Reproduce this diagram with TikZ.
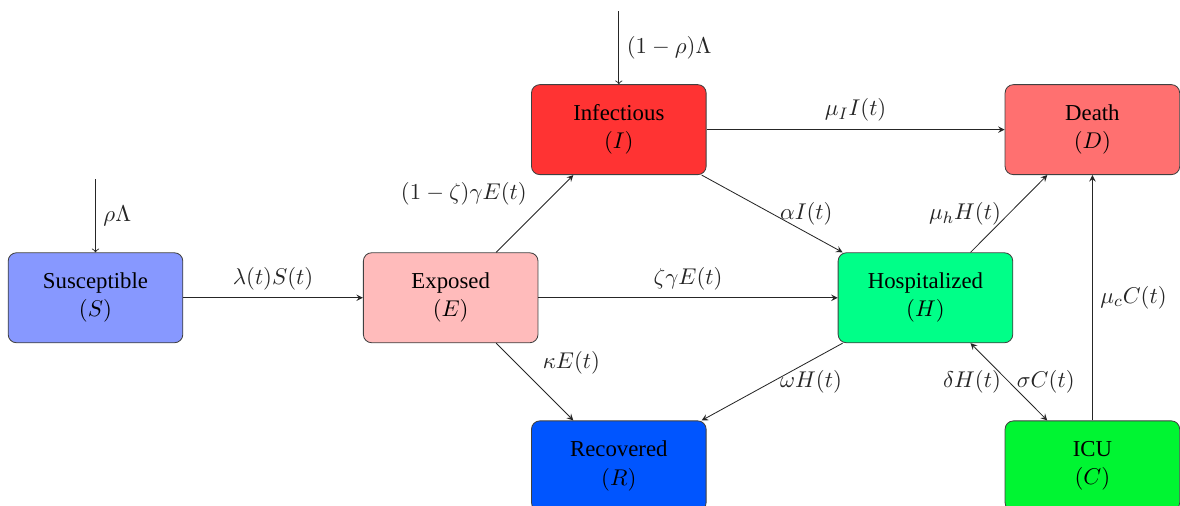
\documentclass[11pt,tikz,border=0pt]{standalone}
\usepackage{amsmath}
\usepackage{amssymb}
\usepackage[no-math]{fontspec}
\setmainfont{Liberation Serif}
\usepackage{tikz}
\usetikzlibrary{calc}

\definecolor{colS}{RGB}{135,152,255}
\definecolor{colE}{RGB}{255,187,187}
\definecolor{colI}{RGB}{255,51,51}
\definecolor{colD}{RGB}{255,112,112}
\definecolor{colH}{RGB}{0,255,136}
\definecolor{colC}{RGB}{0,245,50}
\definecolor{colR}{RGB}{0,85,255}

\begin{document}
\begin{tikzpicture}
                [compartment/.style={rectangle,rounded corners,draw=black!75,
                    minimum width=2.95cm,minimum height=1.52cm,align=center},
                 flow/.style={-stealth,black!85},
                 inflow/.style={->,black!85}]
                
                \useasboundingbox (-1.613,-3.514) rectangle (18.32,5.03);
                
                \node[compartment,fill=colS] (S) at (  0.00,  0.00) {Susceptible\\$(S)$};
                \node[compartment,fill=colE] (E) at (  6.00,  0.00) {Exposed\\$(E)$};
                \node[compartment,fill=colI] (I) at (  8.84,  2.84) {Infectious\\$(I)$};
                \node[compartment,fill=colH] (H) at ( 14.02,  0.00) {Hospitalized\\$(H)$};
                \node[compartment,fill=colD] (D) at ( 16.84,  2.84) {Death\\$(D)$};
                \node[compartment,fill=colR] (R) at (  8.84, -2.84) {Recovered\\$(R)$};
                \node[compartment,fill=colC] (C) at ( 16.84, -2.84) {ICU\\$(C)$};
                
                \coordinate (inS) at (  0.00,  2.00);
                \coordinate (inI) at (  8.84,  4.84);
                
                % recruitment
                \draw[inflow] (inS) -- node[right] {$\rho\Lambda$} (S);
                \draw[inflow] (inI) -- node[right] {$(1-\rho)\Lambda$} (I);
                
                % transitions
                \draw[flow] (S) -- node[above] {$\lambda(t)S(t)$} (E);
                \draw[flow] (E) -- node[above left] {$(1-\zeta)\gamma E(t)$} (I);
                \draw[flow] (E) -- node[above] {$\zeta\gamma E(t)$} (H);
                \draw[flow] (E) -- node[above right] {$\kappa E(t)$} (R);
                \draw[flow] (I) -- node[above] {$\mu_I I(t)$} (D);
                \draw[flow] (I) -- node[right] {$\alpha I(t)$} (H);
                \draw[flow] (H) -- node[left] {$\mu_h H(t)$} (D);
                \draw[flow] (H) -- node[right] {$\omega H(t)$} (R);
                \draw[stealth-stealth,black!85] (H) -- node[left] {$\delta H(t)$}
                    node[right] {$\sigma C(t)$} (C);
                \draw[flow] (C) -- node[right] {$\mu_c C(t)$} (D);
            \end{tikzpicture}
\end{document}
